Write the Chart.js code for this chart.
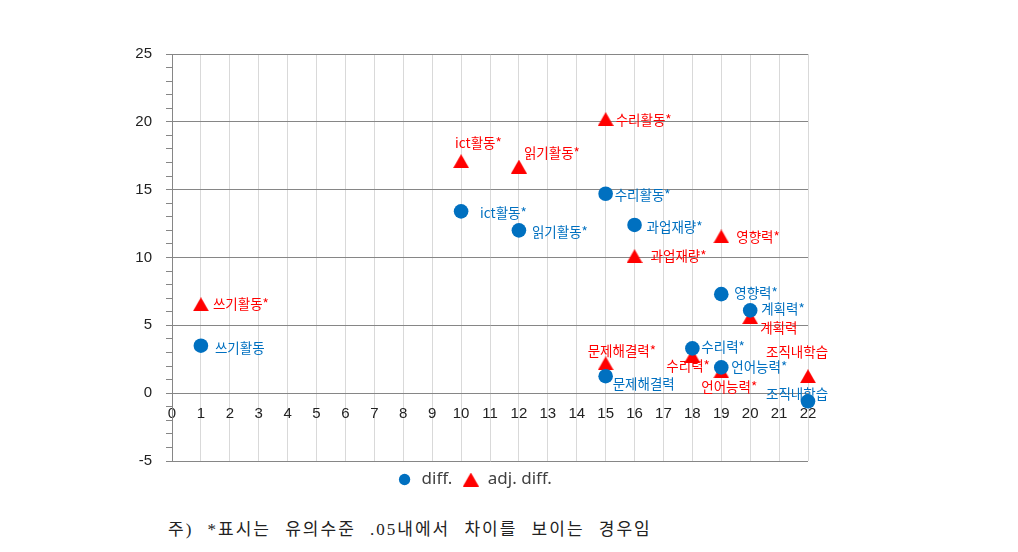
<!DOCTYPE html>
<html>
<head>
<meta charset="utf-8">
<script src="https://cdn.jsdelivr.net/npm/chart.js@4.4.1/dist/chart.umd.min.js"></script>
<style>
  body { margin: 0; background: #fff; }
  #wrap { position: relative; width: 1018px; height: 552px; }
  #note {
    position: absolute; left: 168px; top: 515px;
    font-family: "Liberation Serif", "Noto Sans CJK KR", serif;
    font-size: 17px; color: #222; letter-spacing: 2px; word-spacing: 8px; white-space: nowrap;
  }
</style>
</head>
<body>
<div id="wrap">
  <canvas id="myChart" width="1018" height="500" style="width:1018px;height:500px"></canvas>
  <div id="note">주) *표시는 유의수준 .05내에서 차이를 보이는 경우임</div>
</div>
<script>
// x position of each item (same for both series)
const xPos = [1, 10, 12, 15, 16, 19, 20, 18, 19, 15, 22];

// diff. (blue circles)
const diffValues = [3.5, 13.4, 12.0, 14.7, 12.4, 7.3, 6.1, 3.3, 1.9, 1.25, -0.6];
const diffLabels = ['쓰기활동', 'ict활동*', '읽기활동*', '수리활동*', '과업재량*', '영향력*', '계획력*', '수리력*', '언어능력*', '문제해결력', '조직내학습'];

// adj. diff. (red triangles)
const adjValues = [6.55, 17.1, 16.7, 20.2, 10.1, 11.55, 5.6, 2.75, 1.6, 2.2, 1.25];
const adjLabels = ['쓰기활동*', 'ict활동*', '읽기활동*', '수리활동*', '과업재량*', '영향력*', '계획력', '수리력*', '언어능력*', '문제해결력*', '조직내학습'];

const seriesNames = ['diff.', 'adj. diff.'];

// label offsets from the marker (left edge of text, vertical centre)
const diffOffsets = [[14, 2], [19, 2], [13, 2], [9, 1], [12, 1.5], [13, -1.5], [11, -2], [9, -2], [10, -1], [7, 8], [-42, -7]];
const adjOffsets = [[12, 0], [-6, -18], [5, -14], [10, 1], [16, 0], [15, 0], [10, 11], [-26, 10], [-20, 15], [-18, -12], [-42, -24]];

const blue = '#0070C0';
const red = '#FF0000';
const tickFont = { family: '"Liberation Sans", Arial, sans-serif', size: 15 };

function toPoints(xs, ys) {
    let pts = [];
    for (let i = 0; i < xs.length; i++) {
        pts.push({ x: xs[i], y: ys[i] });
    }
    return pts;
}

// triangle marker, centred on its box like the Excel one
function makeTriangle(w, h, color) {
    const c = document.createElement('canvas');
    c.width = w;
    c.height = h;
    const g = c.getContext('2d');
    g.fillStyle = color;
    g.beginPath();
    g.moveTo(w / 2, 0);
    g.lineTo(w, h);
    g.lineTo(0, h);
    g.closePath();
    g.fill();
    return c;
}
const triangle = makeTriangle(16, 14, red);

const pointLabels = {
    id: 'pointLabels',
    afterLayout(chart) {
        // legend sits a bit right of the canvas centre in the original
        chart.legend.left += 14;
        chart.legend.right += 14;
    },
    afterDatasetsDraw(chart) {
        const ctx = chart.ctx;
        const texts = [diffLabels, adjLabels];
        const offs = [diffOffsets, adjOffsets];
        const colors = [blue, red];
        ctx.save();
        ctx.font = '13.5px "Noto Sans CJK KR", sans-serif';
        ctx.textAlign = 'left';
        ctx.textBaseline = 'middle';
        for (let d = 1; d >= 0; d--) {
            const meta = chart.getDatasetMeta(d);
            ctx.fillStyle = colors[d];
            meta.data.forEach((pt, i) => {
                ctx.fillText(texts[d][i], pt.x + offs[d][i][0], pt.y + offs[d][i][1]);
            });
        }
        ctx.restore();
    }
};

const chart = new Chart('myChart', {
    type: 'scatter',
    data: {
        datasets: [{
            label: seriesNames[0],
            data: toPoints(xPos, diffValues),
            pointStyle: 'circle',
            pointRadius: 7.3,
            pointBorderWidth: 0,
            pointBackgroundColor: blue,
            backgroundColor: blue,
            borderColor: blue,
            clip: false
        }, {
            label: seriesNames[1],
            data: toPoints(xPos, adjValues),
            pointStyle: triangle,
            pointRadius: 8,
            pointBorderWidth: 0,
            pointBackgroundColor: red,
            backgroundColor: red,
            borderColor: red,
            clip: false
        }]
    },
    options: {
        responsive: false,
        animation: false,
        events: [],
        layout: {
            padding: { left: 112, right: 210, top: 54, bottom: 2 }
        },
        plugins: {
            legend: {
                position: 'bottom',
                labels: {
                    usePointStyle: true,
                    boxHeight: 8,
                    padding: 10,
                    color: '#404040',
                    font: { family: '"Noto Sans", sans-serif', size: 17 }
                }
            },
            tooltip: { enabled: false }
        },
        scales: {
            x: {
                type: 'linear',
                min: 0,
                max: 22,
                position: { y: 0 },
                afterFit(scale) { scale.height = 0; },
                ticks: {
                    stepSize: 1,
                    autoSkip: false,
                    padding: 12,
                    color: '#222222',
                    font: tickFont
                },
                grid: { color: '#d9d9d9', drawTicks: false },
                border: { color: '#868686' }
            },
            y: {
                min: -5,
                max: 25,
                afterFit(scale) { scale.width = 60; },
                ticks: {
                    stepSize: 1,
                    autoSkip: false,
                    padding: 14,
                    color: '#222222',
                    font: tickFont,
                    callback: function(v) { return v % 5 === 0 ? v : ''; }
                },
                grid: {
                    color: function(c) { return c.tick && c.tick.value % 5 === 0 ? '#868686' : 'rgba(0,0,0,0)'; },
                    tickColor: '#868686',
                    tickLength: 6
                },
                border: { color: '#868686' }
            }
        }
    },
    plugins: [pointLabels]
});
</script>
</body>
</html>
